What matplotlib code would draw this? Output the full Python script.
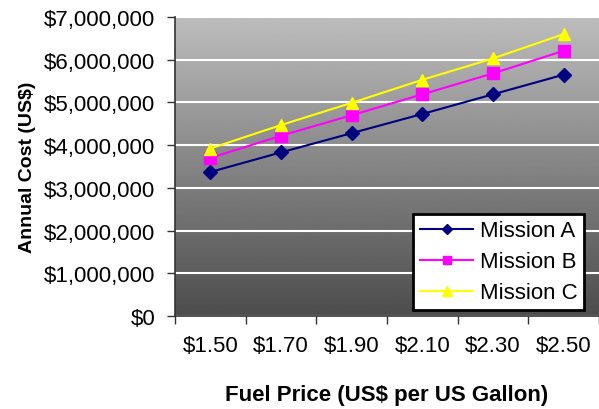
import numpy as np
import matplotlib.pyplot as plt
import matplotlib as mpl
from matplotlib.ticker import FuncFormatter, FixedLocator

mpl.rcParams.update({
    "font.family": ["Liberation Sans", "DejaVu Sans"],
    "font.size": 15,
})

# Annual cost for each mission at each fuel price
prices = ["$1.50", "$1.70", "$1.90", "$2.10", "$2.30", "$2.50"]
mission_a = [3.37e6, 3.83e6, 4.28e6, 4.73e6, 5.19e6, 5.65e6]
mission_b = [3.70e6, 4.22e6, 4.70e6, 5.19e6, 5.68e6, 6.21e6]
mission_c = [3.92e6, 4.47e6, 4.99e6, 5.53e6, 6.03e6, 6.60e6]

series = [
    ("Mission A", mission_a, "#000080", "D", 7),
    ("Mission B", mission_b, "#ff00ff", "s", 8),
    ("Mission C", mission_c, "#ffff00", "^", 9),
]

fig = plt.figure(figsize=(5.99, 4.10), dpi=100)
ax = fig.add_axes([0.292, 0.227, 0.708, 0.729])

x = np.arange(len(prices))
ax.set_xlim(-0.5, len(prices) - 0.5)
ax.set_ylim(0, 7e6)

# vertical grey gradient behind the plot
grad = np.linspace(0.74, 0.30, 256).reshape(-1, 1)
ax.imshow(grad, cmap="gray", vmin=0, vmax=1, aspect="auto",
          extent=[-0.5, len(prices) - 0.5, 0, 7e6], origin="upper", zorder=0)

for name, vals, color, marker, ms in series:
    ax.plot(x, vals, color=color, marker=marker, markersize=ms, linewidth=1.5,
            label=name, zorder=3)

# y axis: dollar ticks with white gridlines
ax.set_yticks(np.arange(0, 7e6 + 1, 1e6))
ax.yaxis.set_major_formatter(FuncFormatter(lambda v, p: f"${v:,.0f}"))
ax.yaxis.grid(True, color="white", linewidth=1.5)
ax.set_axisbelow(True)

# x axis: ticks between categories, labels centred on categories
ax.xaxis.set_major_locator(FixedLocator(np.arange(-0.5, len(prices), 1.0)))
ax.xaxis.set_major_formatter(FuncFormatter(lambda v, p: ""))
ax.xaxis.set_minor_locator(FixedLocator(x))
ax.set_xticklabels(prices, minor=True)
ax.tick_params(axis="x", which="minor", length=0, pad=14, labelsize=16)
ax.tick_params(axis="both", which="major", length=6, width=1, color="#333333",
               direction="out")
ax.tick_params(axis="y", pad=8, labelsize=16)

for side in ("top", "right"):
    ax.spines[side].set_visible(False)
for side in ("left", "bottom"):
    ax.spines[side].set_color("#333333")
    ax.spines[side].set_linewidth(1.2)

ax.set_xlabel("Fuel Price (US$ per US Gallon)", fontweight="bold", fontsize=16,
              labelpad=20)
ax.set_ylabel("Annual Cost (US$)", fontweight="bold", fontsize=14, labelpad=6)

leg = ax.legend(loc="lower right", bbox_to_anchor=(0.965, 0.02), fancybox=False,
                framealpha=1, edgecolor="black", handlelength=2.4, fontsize=16,
                borderpad=0.3, labelspacing=0.45, handletextpad=0.3,
                markerscale=0.8, borderaxespad=0)
leg.get_frame().set_linewidth(2)

fig.savefig("out.png", dpi=100)
